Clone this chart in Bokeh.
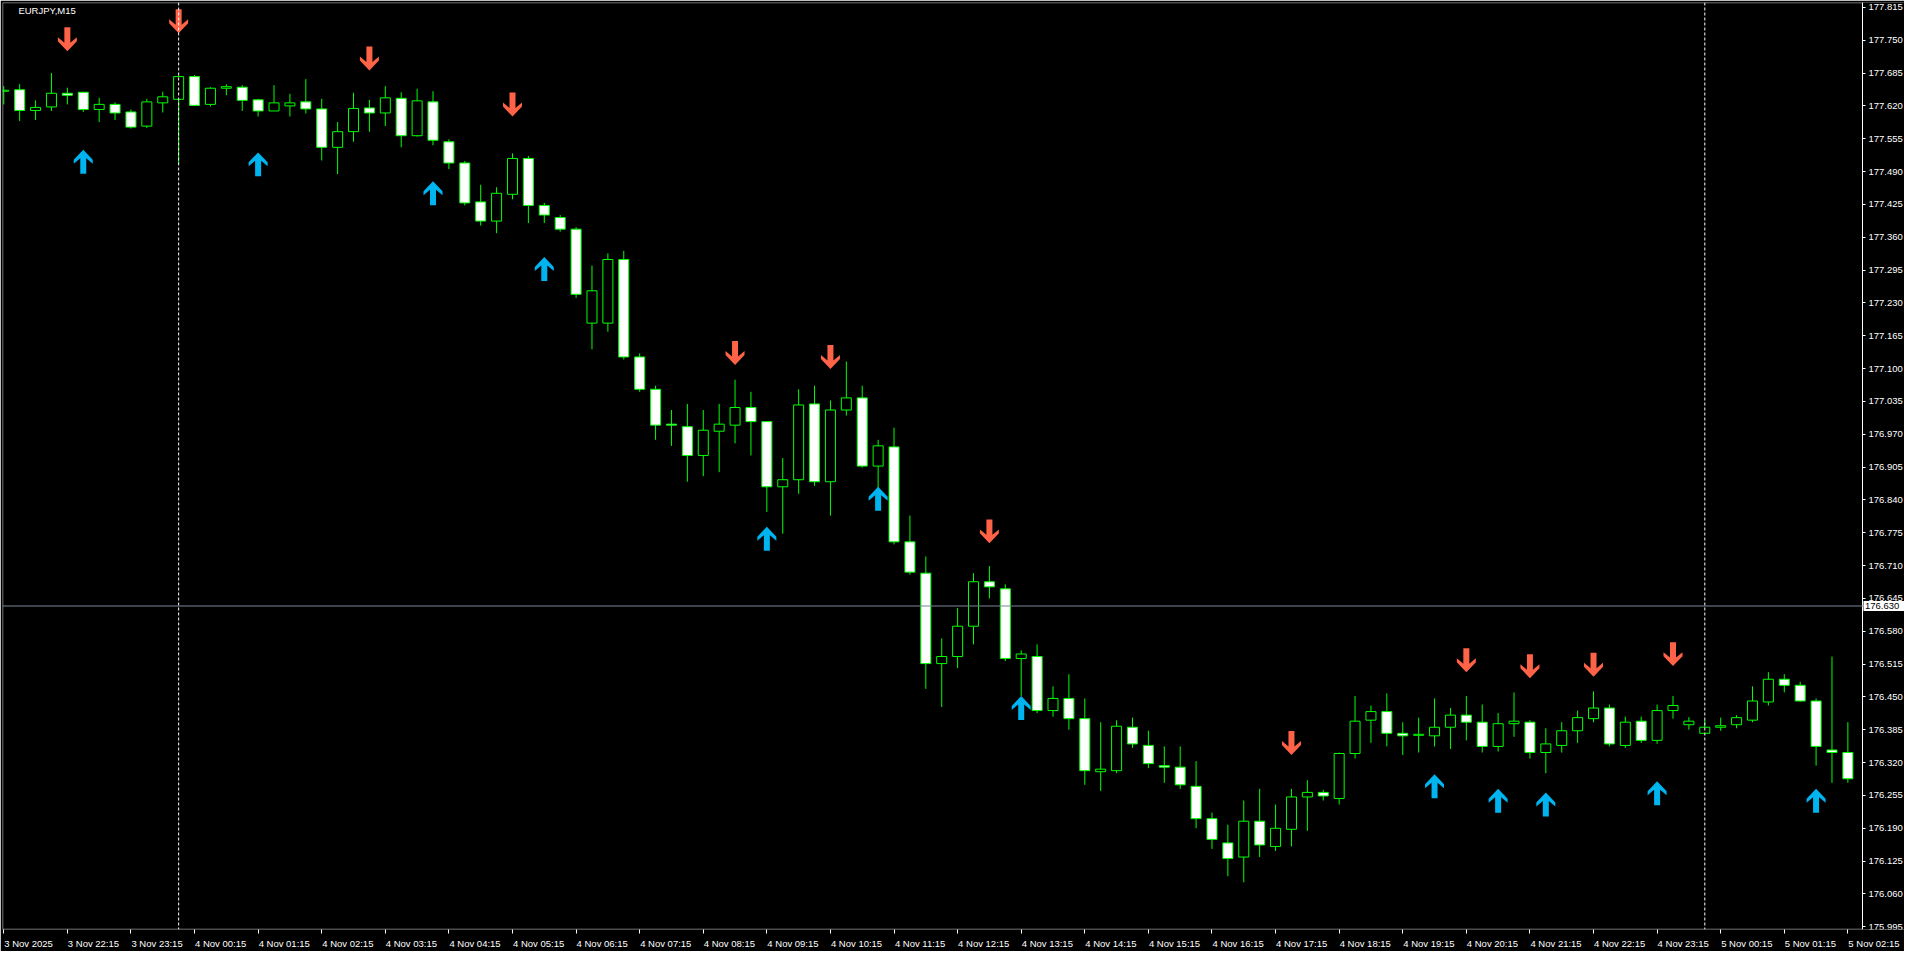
import numpy as np
from bokeh.plotting import figure
from bokeh.models import FixedTicker, Span, Label, ColumnDataSource, PrintfTickFormatter, BoxAnnotation
from bokeh.core.properties import value
from bokeh.embed import file_html
from bokeh.resources import INLINE

# ---------------- data ----------------
opens = [177.649,177.652,177.611,177.618,177.645,177.647,177.613,177.623,177.608,177.580,
         177.626,177.633,177.678,177.623,177.655,177.657,177.632,177.610,177.620,177.628,
         177.614,177.538,177.569,177.616,177.606,177.635,177.561,177.628,177.549,177.507,
         177.430,177.392,177.445,177.516,177.423,177.399,177.376,177.190,177.190,177.316,
         177.123,177.059,176.990,176.985,176.928,176.976,176.988,177.023,176.995,176.866,
         176.880,177.030,176.876,177.018,177.042,176.907,176.945,176.757,176.695,176.516,
         176.530,176.590,176.678,176.664,176.526,176.530,176.423,176.447,176.407,176.302,
         176.304,176.390,176.354,176.314,176.311,176.273,176.209,176.161,176.133,176.204,
         176.154,176.188,176.252,176.261,176.249,176.338,176.404,176.421,176.378,176.374,
         176.373,176.390,176.414,176.400,176.352,176.397,176.400,176.340,176.354,176.383,
         176.407,176.428,176.354,176.402,176.364,176.423,176.395,176.378,176.390,176.395,
         176.404,176.440,176.485,176.473,176.442,176.345,176.340]
highs = [177.659,177.663,177.631,177.685,177.656,177.648,177.636,177.627,177.613,177.634,
         177.648,177.680,177.681,177.657,177.663,177.661,177.634,177.661,177.644,177.673,
         177.634,177.588,177.646,177.632,177.659,177.647,177.654,177.649,177.554,177.511,
         177.464,177.459,177.526,177.521,177.428,177.404,177.380,177.304,177.328,177.333,
         177.130,177.066,177.018,177.030,177.018,177.030,177.078,177.054,176.995,176.923,
         177.059,177.066,177.037,177.114,177.066,176.959,176.983,176.809,176.728,176.566,
         176.626,176.695,176.709,176.673,176.542,176.554,176.471,176.495,176.447,176.400,
         176.404,176.409,176.383,176.352,176.352,176.323,176.221,176.197,176.245,176.268,
         176.237,176.268,176.285,176.266,176.340,176.452,176.433,176.457,176.400,176.409,
         176.447,176.428,176.452,176.435,176.418,176.459,176.404,176.388,176.400,176.423,
         176.461,176.435,176.411,176.411,176.435,176.452,176.410,176.404,176.409,176.414,
         176.471,176.499,176.495,176.480,176.447,176.530,176.400]
lows = [177.623,177.590,177.592,177.610,177.623,177.608,177.588,177.592,177.575,177.576,
        177.607,177.505,177.621,177.619,177.641,177.610,177.599,177.610,177.599,177.605,
        177.512,177.485,177.549,177.569,177.580,177.538,177.559,177.542,177.495,177.423,
        177.383,177.368,177.435,177.388,177.388,177.371,177.240,177.138,177.173,177.118,
        177.054,176.959,176.947,176.876,176.887,176.895,176.952,176.928,176.816,176.773,
        176.852,176.868,176.809,177.007,176.904,176.852,176.752,176.692,176.466,176.430,
        176.507,176.554,176.645,176.521,176.452,176.418,176.411,176.385,176.276,176.264,
        176.299,176.349,176.309,176.280,176.268,176.190,176.149,176.095,176.083,176.133,
        176.145,176.154,176.185,176.245,176.237,176.328,176.359,176.352,176.335,176.340,
        176.352,176.347,176.364,176.340,176.342,176.371,176.328,176.299,176.340,176.359,
        176.400,176.352,176.349,176.359,176.357,176.407,176.385,176.376,176.383,176.388,
        176.400,176.433,176.459,176.440,176.314,176.280,176.280]
closes = [177.651,177.611,177.617,177.645,177.641,177.613,177.623,177.606,177.578,177.628,
          177.638,177.678,177.621,177.655,177.658,177.631,177.610,177.626,177.626,177.614,
          177.538,177.569,177.615,177.606,177.636,177.561,177.630,177.552,177.507,177.428,
          177.392,177.447,177.516,177.423,177.404,177.376,177.247,177.254,177.316,177.123,
          177.059,176.988,176.988,176.928,176.978,176.990,177.023,176.995,176.866,176.880,
          177.028,176.876,177.018,177.042,176.907,176.947,176.757,176.697,176.516,176.530,
          176.590,176.678,176.668,176.526,176.535,176.423,176.447,176.407,176.304,176.307,
          176.392,176.357,176.318,176.311,176.276,176.209,176.168,176.130,176.204,176.157,
          176.190,176.252,176.261,176.254,176.338,176.402,176.421,176.378,176.373,176.376,
          176.390,176.414,176.400,176.352,176.397,176.402,176.340,176.357,176.383,176.409,
          176.428,176.357,176.400,176.364,176.423,176.433,176.402,176.390,176.393,176.409,
          176.442,176.485,176.473,176.442,176.352,176.340,176.288]

x_labels = ["3 Nov 2025", "3 Nov 22:15", "3 Nov 23:15",
            "4 Nov 00:15", "4 Nov 01:15", "4 Nov 02:15", "4 Nov 03:15", "4 Nov 04:15",
            "4 Nov 05:15", "4 Nov 06:15", "4 Nov 07:15", "4 Nov 08:15", "4 Nov 09:15",
            "4 Nov 10:15", "4 Nov 11:15", "4 Nov 12:15", "4 Nov 13:15", "4 Nov 14:15",
            "4 Nov 15:15", "4 Nov 16:15", "4 Nov 17:15", "4 Nov 18:15", "4 Nov 19:15",
            "4 Nov 20:15", "4 Nov 21:15", "4 Nov 22:15", "4 Nov 23:15",
            "5 Nov 00:15", "5 Nov 01:15", "5 Nov 02:15"]
bars_per_label = 4

price_ticks = [177.815, 177.750, 177.685, 177.620, 177.555, 177.490, 177.425, 177.360,
               177.295, 177.230, 177.165, 177.100, 177.035, 176.970, 176.905, 176.840,
               176.775, 176.710, 176.645, 176.580, 176.515, 176.450, 176.385, 176.320,
               176.255, 176.190, 176.125, 176.060, 175.995]

down_bars = [4, 11, 23, 32, 46, 52, 62, 81, 92, 96, 100, 105]
down_prices = [177.728, 177.764, 177.690, 177.599, 177.107, 177.099, 176.754,
               176.335, 176.499, 176.487, 176.490, 176.511]
up_bars = [5, 16, 27, 34, 48, 55, 64, 90, 94, 97, 104, 114]
up_prices = [177.533, 177.528, 177.471, 177.321, 176.787, 176.866, 176.452,
             176.297, 176.268, 176.261, 176.283, 176.268]

separator_bars = [11, 107]
bid_price = 176.630
bid_text = "176.630"
symbol_text = "EURJPY,M15"

# ---------------- layout constants ----------------
W, H = 1904, 951
LB, TB, BB = 2, 2, 21
AXIS_W = 42                       # width of the price-scale strip at the right
frame_w = W - LB                  # frame spans to the right edge; price axis is fixed inside it
frame_h = H - TB - BB
chart_px = frame_w - AXIS_W       # width of the candle area
x_start = -0.08
bar_per_px = 117.0 / chart_px
x_axis_loc = x_start + chart_px * bar_per_px       # position of the price scale line
x_end = x_start + frame_w * bar_per_px
y_start, y_end = 175.9896, 177.8247
price_per_px = (y_end - y_start) / frame_h

FONT = "Liberation Sans"
FS = 9.5
GREEN = "#00FF00"

p = figure(width=W, height=H, x_range=(x_start, x_end), y_range=(y_start, y_end),
           output_backend="svg", toolbar_location=None, y_axis_location="right",
           min_border_left=LB, min_border_right=0, min_border_top=TB, min_border_bottom=BB,
           background_fill_color="black", border_fill_color="black")
p.xgrid.visible = False
p.ygrid.visible = False
p.outline_line_color = None

# chart border (left / top / bottom); right side is the price scale line
p.add_layout(BoxAnnotation(left=x_start + 0.5 * bar_per_px, right=x_axis_loc,
                           bottom=y_start + 0.5 * price_per_px, top=y_end - 0.5 * price_per_px,
                           fill_alpha=0, line_color="white", line_width=1))

# x axis: labels start at the tick (left aligned) -> shift label anchors by half width
cw = {" ": 0.278, "N": 0.722, "o": 0.556, "v": 0.5, ":": 0.278}
def text_w(s):
    return sum(cw.get(ch, 0.556) for ch in s) * FS

bar_pos = [i * bars_per_label for i in range(len(x_labels))]
label_pos = [b + (text_w(s) / 2.0 + 0.5) * bar_per_px for b, s in zip(bar_pos, x_labels)]
xa = p.xaxis[0]
xa.ticker = FixedTicker(ticks=label_pos, minor_ticks=bar_pos)
xa.major_label_overrides = {lp: s for lp, s in zip(label_pos, x_labels)}
xa.major_tick_line_color = None
xa.minor_tick_line_color = "white"
xa.minor_tick_out = 4
xa.minor_tick_in = 0
xa.axis_line_color = None
xa.major_label_text_color = "white"
xa.major_label_text_font = FONT
xa.major_label_text_font_size = f"{FS}px"
xa.major_label_standoff = 2

# price scale, fixed at the right edge of the candle area
ya = p.yaxis[0]
ya.fixed_location = x_axis_loc
ya.ticker = FixedTicker(ticks=price_ticks)
ya.formatter = PrintfTickFormatter(format="%.3f")
ya.axis_line_color = "white"
ya.major_tick_line_color = "white"
ya.major_tick_out = 3
ya.major_tick_in = 0
ya.minor_tick_line_color = None
ya.major_label_text_color = "white"
ya.major_label_text_font = FONT
ya.major_label_text_font_size = f"{FS}px"
ya.major_label_standoff = 3

# separators & bid line
for b in separator_bars:
    p.add_layout(Span(location=b, dimension="height", line_color="white",
                      line_dash="3 2", line_width=1))
p.add_layout(Span(location=bid_price, dimension="width", line_color="#778899", line_width=1))

# candles
o = np.array(opens); h = np.array(highs); l = np.array(lows); c = np.array(closes)
x = np.arange(len(o))
src = ColumnDataSource(dict(x=x, high=h, low=l, top=np.maximum(o, c), bottom=np.minimum(o, c),
                            fill=np.where(c < o, "white", "black")))
p.segment(x0="x", y0="low", x1="x", y1="high", source=src, line_color=GREEN, line_width=1)
p.vbar(x="x", width=0.63, top="top", bottom="bottom", source=src,
       fill_color="fill", line_color=GREEN, line_width=1)

# arrows (tip at given price); shape in pixels relative to tip, y measured away from tip
shape = [(0, 0), (9.5, 10), (9.5, 14), (3, 8.5), (3, 24), (-3, 24), (-3, 8.5), (-9.5, 14), (-9.5, 10)]
def arrows(bars, prices, direction):
    xs, ys = [], []
    for b, pr in zip(bars, prices):
        xs.append([b + sx * bar_per_px for sx, sy in shape])
        ys.append([pr + direction * sy * price_per_px for sx, sy in shape])
    return xs, ys
dx, dy = arrows(down_bars, down_prices, +1)
ux, uy = arrows(up_bars, up_prices, -1)
p.patches(dx, dy, fill_color="#FF6347", line_color=None)
p.patches(ux, uy, fill_color="#00B4F0", line_color=None)

# bid price box on the price scale
bx = x_axis_loc + 21.5 * bar_per_px
p.rect(x=[bx], y=[bid_price], width=41, height=10, width_units="screen", height_units="screen",
       fill_color="white", line_color=None, level="overlay")
p.text(x=[x_axis_loc + 2.5 * bar_per_px], y=[bid_price], text=[bid_text], text_color="black",
       text_font=value(FONT), text_font_size=f"{FS}px", text_baseline="middle",
       text_align="left", level="overlay")

# symbol label
p.add_layout(Label(x=0.92, y=y_end - 8.5 * price_per_px, text=symbol_text, text_color="white",
                   text_font=FONT, text_font_size=f"{FS}px", text_baseline="middle"))

open("out.html", "w").write(file_html(p, INLINE))
